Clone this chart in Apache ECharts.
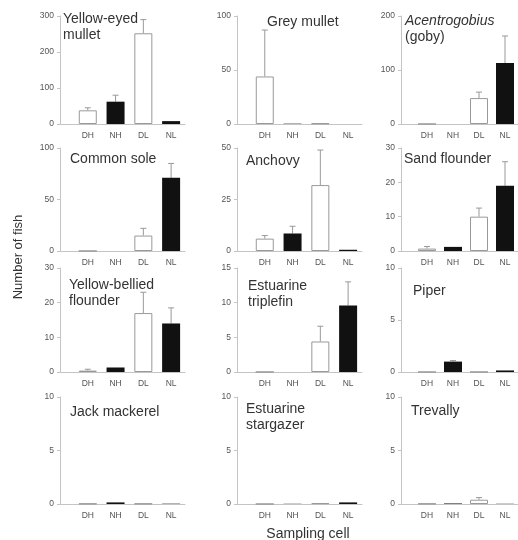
<!DOCTYPE html>
<html>
<head>
<meta charset="utf-8">
<script src="https://cdn.jsdelivr.net/npm/echarts@6/dist/echarts.min.js"></script>
<style>html,body{margin:0;padding:0;background:#fff}#c{width:518px;height:540px}</style>
</head>
<body>
<div id="c"></div>
<script>
// Sampling cells (x categories)
const cells = ['DH', 'NH', 'DL', 'NL'];

// Panel titles
const titles = [
  'Yellow-eyed\nmullet', 'Grey mullet', '{i|Acentrogobius}\n(goby)',
  'Common sole', 'Anchovy', 'Sand flounder',
  'Yellow-bellied\nflounder', 'Estuarine\ntriplefin', 'Piper',
  'Jack mackerel', 'Estuarine\nstargazer', 'Trevally'
];

// Mean number of fish per cell (DH, NH, DL, NL) and upper error bar ends
const yellowEyedMullet = [38, 62, 252, 8];
const yellowEyedMulletErr = [45, 80, 290, null];
const greyMullet = [44, 0.3, 0.5, 0];
const greyMulletErr = [87, null, null, null];
const acentrogobius = [0, 0, 48, 113];
const acentrogobiusErr = [null, null, 59, 163];
const commonSole = [0, 0, 15, 71];
const commonSoleErr = [null, null, 22, 85];
const anchovy = [6, 8.5, 32, 0.6];
const anchovyErr = [7.5, 12, 49, null];
const sandFlounder = [0.7, 1.2, 10, 19];
const sandFlounderErr = [1.3, null, 12.5, 26];
const yellowBelliedFlounder = [0.4, 1.3, 17, 14];
const yellowBelliedFlounderErr = [0.8, null, 23, 18.5];
const estuarineTriplefin = [0, 0, 4.4, 9.6];
const estuarineTriplefinErr = [null, null, 6.6, 13];
const piper = [0, 1.0, 0, 0.15];
const piperErr = [null, 1.1, null, null];
const jackMackerel = [0.03, 0.15, 0.03, 0.03];
const jackMackerelErr = [null, null, null, null];
const estuarineStargazer = [0, 0.02, 0.08, 0.15];
const estuarineStargazerErr = [null, null, null, null];
const trevally = [0.03, 0.05, 0.4, 0.02];
const trevallyErr = [null, null, 0.6, null];

// Y axis ranges / tick steps per panel
const yMax = [300, 100, 200, 100, 50, 30, 30, 15, 10, 10, 10, 10];
const yStep = [100, 50, 100, 50, 25, 10, 10, 5, 5, 5, 5, 5];

const means = [yellowEyedMullet, greyMullet, acentrogobius, commonSole, anchovy, sandFlounder,
  yellowBelliedFlounder, estuarineTriplefin, piper, jackMackerel, estuarineStargazer, trevally];
const errs = [yellowEyedMulletErr, greyMulletErr, acentrogobiusErr, commonSoleErr, anchovyErr, sandFlounderErr,
  yellowBelliedFlounderErr, estuarineTriplefinErr, piperErr, jackMackerelErr, estuarineStargazerErr, trevallyErr];

// layout
const colLeft = [60, 237, 401];
const rowTop = [16, 148, 268, 397];
const rowZero = [124, 251, 372, 504];
const plotW = 125;
const titlePos = [
  [63, 11], [267, 14], [405, 13],
  [70, 151], [246, 153], [404, 151],
  [69, 277], [248, 278], [413, 283],
  [70, 404], [246, 401], [411, 403]
];

const grid = [], xAxis = [], yAxis = [], series = [], title = [];
for (let k = 0; k < 12; k++) {
  const r = Math.floor(k / 3), c = k % 3;
  grid.push({ left: colLeft[c], top: rowTop[r], width: plotW, height: rowZero[r] - rowTop[r] });
  xAxis.push({
    gridIndex: k, type: 'value', min: 0, max: 4.5, interval: 1,
    axisLine: { show: true, onZero: false, lineStyle: { color: '#c4c4c4', width: 1 } },
    axisTick: { show: false }, splitLine: { show: false },
    axisLabel: { fontSize: 8.5, color: '#555', margin: 7, fontFamily: 'Liberation Sans',
      showMaxLabel: false, showMinLabel: false,
      formatter: v => (Number.isInteger(v) && v >= 1 && v <= 4) ? cells[v - 1] : '' }
  });
  yAxis.push({
    gridIndex: k, type: 'value', min: 0, max: yMax[k], interval: yStep[k],
    axisLine: { show: true, lineStyle: { color: '#c4c4c4', width: 1 } },
    axisTick: { show: true, length: 3, lineStyle: { color: '#c4c4c4' } },
    splitLine: { show: false },
    axisLabel: { fontSize: 8.5, color: '#555', margin: 6, fontFamily: 'Liberation Sans' }
  });
  series.push({
    type: 'bar', xAxisIndex: k, yAxisIndex: k, barWidth: 18, silent: true,
    data: means[k].map((v, i) => ({
      value: [i + 1, v],
      itemStyle: (i % 2 === 0) ? { color: '#fff', borderColor: '#999', borderWidth: 1 } : { color: '#111' }
    }))
  });
  series.push({
    type: 'custom', xAxisIndex: k, yAxisIndex: k, silent: true,
    data: means[k].map((v, i) => [i + 1, v, errs[k][i] == null ? v : errs[k][i]]),
    renderItem: (params, api) => {
      const x = api.value(0), m = api.value(1), e = api.value(2);
      if (!(e > m)) return null;
      const p0 = api.coord([x, m]), p1 = api.coord([x, e]);
      return {
        type: 'group', children: [
          { type: 'line', shape: { x1: p0[0], y1: p0[1], x2: p1[0], y2: p1[1] }, style: { stroke: '#999', lineWidth: 1 } },
          { type: 'line', shape: { x1: p1[0] - 3, y1: p1[1], x2: p1[0] + 3, y2: p1[1] }, style: { stroke: '#999', lineWidth: 1 } }
        ]
      };
    }
  });
  title.push({
    text: titles[k], left: titlePos[k][0], top: titlePos[k][1], padding: 0,
    textStyle: { fontSize: 14, fontWeight: 'normal', color: '#333', fontFamily: 'Liberation Sans', lineHeight: 16,
      rich: { i: { fontStyle: 'italic', fontSize: 14, color: '#333', fontFamily: 'Liberation Sans', lineHeight: 16 } } }
  });
}

const chart = echarts.init(document.getElementById('c'), null, { renderer: 'canvas' });
chart.setOption({
  backgroundColor: '#fff',
  animation: false,
  title, grid, xAxis, yAxis, series,
  graphic: [
    { type: 'text', x: 18, y: 257, rotation: Math.PI / 2,
      style: { text: 'Number of fish', fontSize: 13, fill: '#333', fontFamily: 'Liberation Sans', align: 'center', verticalAlign: 'middle' } },
    { type: 'text', x: 308, y: 534,
      style: { text: 'Sampling cell', fontSize: 14, fill: '#333', fontFamily: 'Liberation Sans', align: 'center', verticalAlign: 'middle' } }
  ]
});
</script>
</body>
</html>
